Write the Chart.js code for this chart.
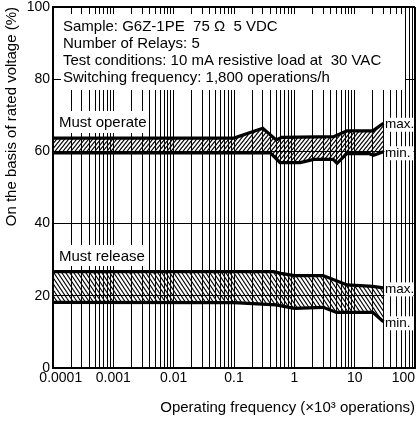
<!DOCTYPE html>
<html>
<head>
<meta charset="utf-8">
<script src="https://cdn.jsdelivr.net/npm/chart.js@4.4.0/dist/chart.umd.min.js"></script>
<style>
  html, body { margin: 0; padding: 0; background: #fff; }
</style>
</head>
<body>
<canvas id="chart" width="418" height="421"></canvas>
<script>
// x axis: decades (x10^3 operations) and their labels
const xDecades = [0.0001, 0.001, 0.01, 0.1, 1, 10, 100];
const xTickLabels = ["0.0001", "0.001", "0.01", "0.1", "1", "10", "100"];
const yTicks = [0, 20, 40, 60, 80, 100];

// Must operate band
const opMaxX = [0.0001, 0.1, 0.3, 0.5, 0.62, 4.5, 7.4, 20, 30];
const opMaxY = [63.7, 63.7, 66.4, 63.2, 63.9, 64.1, 65.7, 65.7, 67.8];
const opMinX = [0.0001, 0.4, 0.58, 1.25, 2.1, 4.4, 5.1, 7.4, 17, 20.5, 30];
const opMinY = [59.6, 59.6, 56.9, 56.9, 57.8, 57.8, 56.7, 59.4, 59.4, 58.9, 59.9];

// Must release band
const relMaxX = [0.0001, 0.45, 0.6, 1, 3, 7.5, 20, 30];
const relMaxY = [26.7, 26.7, 26.2, 25.6, 25.6, 23.0, 22.6, 22.2];
const relMinX = [0.0001, 0.1, 0.5, 1, 3, 5, 20, 30];
const relMinY = [18.2, 18.1, 17.5, 16.5, 16.8, 15.4, 15.4, 12.8];

const conditions = [
  "Sample: G6Z-1PE  75 \u03A9  5 VDC",
  "Number of Relays: 5",
  "Test conditions: 10 mA resistive load at  30 VAC",
  "Switching frequency: 1,800 operations/h"
];

const FONT = '"Liberation Sans", Arial, Helvetica, sans-serif';

// grid lines at 1..9 of every decade
const xGrid = [];
xDecades.forEach((d, i) => {
  if (i === xDecades.length - 1) { xGrid.push(d); return; }
  for (let m = 1; m <= 9; m++) xGrid.push(d * m);
});

function pts(xs, ys) {
  return xs.map((x, i) => ({ x, y: ys[i] }));
}

function hatch(w, h, forward) {
  const c = document.createElement("canvas");
  c.width = w;
  c.height = h;
  const g = c.getContext("2d");
  g.strokeStyle = "#000";
  g.lineWidth = 1.1;
  for (let k = -1; k <= 1; k++) {
    g.beginPath();
    if (forward) {
      g.moveTo(k * w - w, 2 * h);
      g.lineTo(k * w + 2 * w, -h);
    } else {
      g.moveTo(k * w - w, -h);
      g.lineTo(k * w + 2 * w, 2 * h);
    }
    g.stroke();
  }
  return g.createPattern(c, "repeat");
}

const notes = {
  id: "notes",
  beforeDatasetsDraw(chart) {
    const { ctx, chartArea: a, scales: { x, y } } = chart;
    ctx.save();
    ctx.fillStyle = "#fff";
    ctx.fillRect(a.left + 8, a.top + 7, 344, 76);
    ctx.fillRect(a.left + 4, 111, 92, 22);
    ctx.fillRect(a.left + 4, 245, 91, 21);

    ctx.font = "15px " + FONT;
    ctx.fillStyle = "#000";
    ctx.textBaseline = "alphabetic";
    conditions.forEach((t, i) => {
      ctx.fillText(t, a.left + 10, a.top + 23.5 + i * 17);
    });
    ctx.fillText("Must operate", a.left + 6, 127);
    ctx.fillText("Must release", a.left + 6, 261);

    const ends = [
      ["max.", opMaxX, opMaxY],
      ["min.", opMinX, opMinY],
      ["max.", relMaxX, relMaxY],
      ["min.", relMinX, relMinY]
    ];
    ctx.textBaseline = "middle";
    ctx.font = "13.5px " + FONT;
    ends.forEach(([t, xs, ys]) => {
      const px = x.getPixelForValue(xs[xs.length - 1]) + 1;
      const py = y.getPixelForValue(ys[ys.length - 1]) + 1.5;
      ctx.fillStyle = "#fff";
      ctx.fillRect(px, py - 7, 29, 14);
      ctx.fillStyle = "#000";
      ctx.fillText(t, px + 0.5, py);
    });
    ctx.restore();
  }
};

const lineStyle = {
  borderColor: "#000",
  borderWidth: 3.2,
  pointRadius: 0,
  tension: 0
};

new Chart(document.getElementById("chart"), {
  type: "line",
  data: {
    datasets: [
      { ...lineStyle, data: pts(opMaxX, opMaxY), fill: "+1", backgroundColor: hatch(4, 5, true) },
      { ...lineStyle, data: pts(opMinX, opMinY), fill: false },
      { ...lineStyle, data: pts(relMaxX, relMaxY), fill: "+1", backgroundColor: hatch(4, 6, false) },
      { ...lineStyle, data: pts(relMinX, relMinY), fill: false }
    ]
  },
  options: {
    responsive: false,
    animation: false,
    layout: { padding: { left: 0, top: 7, right: 3, bottom: 0 } },
    plugins: {
      legend: { display: false },
      tooltip: { enabled: false }
    },
    scales: {
      x: {
        type: "logarithmic",
        min: 0.0001,
        max: 100,
        afterBuildTicks: s => { s.ticks = xGrid.map(v => ({ value: v })); },
        afterFit: s => { s.height = 53; s.paddingLeft = 0; s.paddingRight = 0; },
        grid: {
          color: "#000",
          lineWidth: c => (c.tick && c.tick.value === 100 ? 2 : 1),
          drawTicks: false
        },
        border: { color: "#000", width: 2 },
        ticks: {
          autoSkip: false,
          maxRotation: 0,
          padding: 2,
          color: "#000",
          font: { family: FONT, size: 14 },
          callback: v => {
            const i = xDecades.indexOf(v);
            if (i < 0) return "";
            if (i === 0) return "    " + xTickLabels[i];
            if (i === xDecades.length - 1) return xTickLabels[i] + "      ";
            return xTickLabels[i];
          }
        },
        title: {
          display: true,
          align: "end",
          text: "Operating frequency (\u00D710\u00B3 operations)",
          color: "#000",
          font: { family: FONT, size: 15 },
          padding: { top: 0, bottom: 4 }
        }
      },
      y: {
        min: 0,
        max: 100,
        afterBuildTicks: s => { s.ticks = yTicks.map(v => ({ value: v })); },
        afterFit: s => { s.width = 53; s.paddingTop = 0; s.paddingBottom = 0; },
        grid: {
          color: "#000",
          lineWidth: c => (c.tick && c.tick.value === 100 ? 2 : 1),
          drawTicks: false
        },
        border: { color: "#000", width: 2 },
        ticks: {
          padding: 3,
          color: "#000",
          font: { family: FONT, size: 14 }
        },
        title: {
          display: true,
          align: "end",
          text: "On the basis of rated voltage (%)",
          color: "#000",
          font: { family: FONT, size: 15 },
          padding: { top: 3, bottom: 0 }
        }
      }
    }
  },
  plugins: [notes]
});
</script>
</body>
</html>
